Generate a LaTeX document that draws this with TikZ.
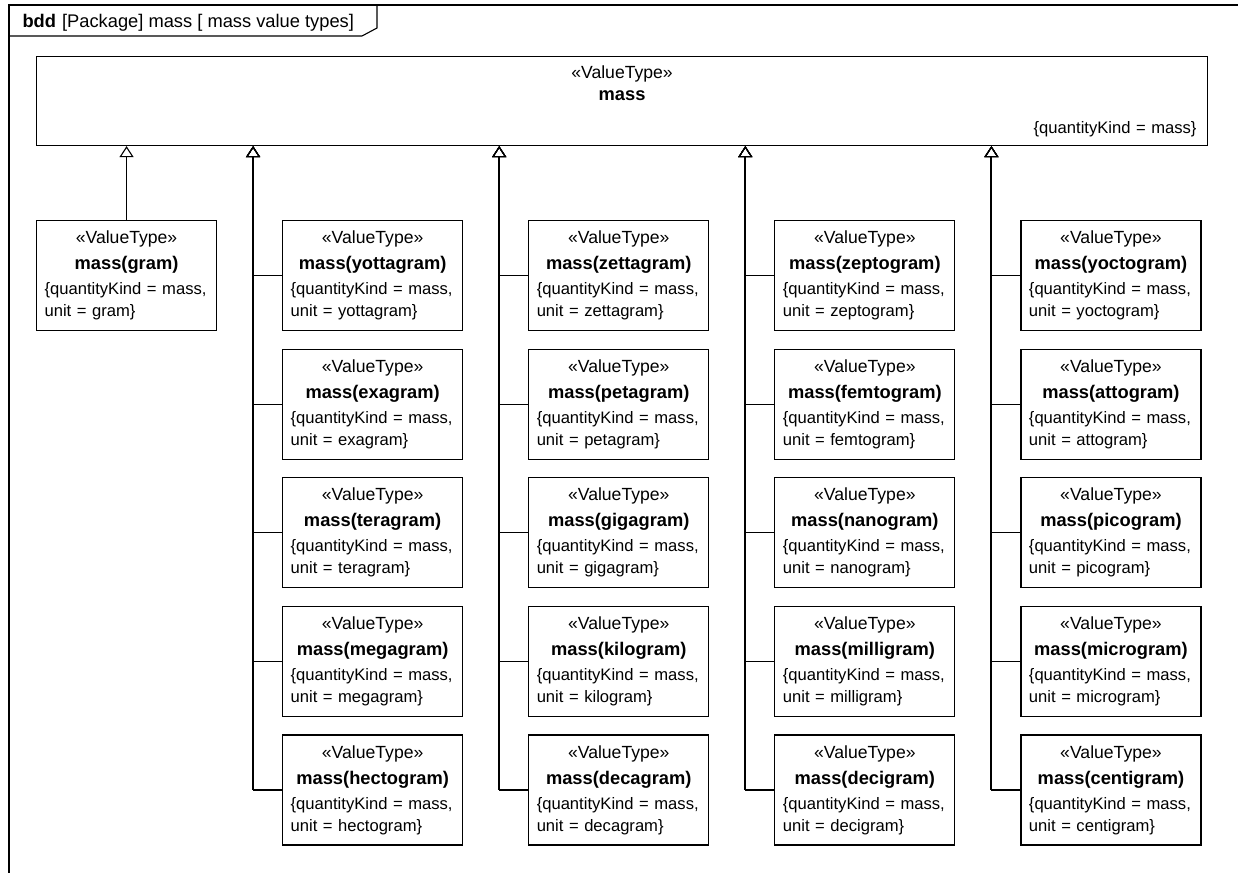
\documentclass[tikz,border=0pt]{standalone}
\usepackage{fontspec}
\setmainfont{Liberation Sans}
\usepackage{tikz}
\usetikzlibrary{arrows.meta, positioning, calc}

\newcommand{\stereo}{{\fontsize{17.6}{22}\selectfont «ValueType»}}
\newcommand{\vtname}[1]{{\fontsize{18.3}{22}\selectfont\bfseries #1}}
\newcommand{\vtype}[1]{\makebox[\hsize]{\stereo}\\[4pt]\makebox[\hsize]{\vtname{mass(#1)}}\\[3pt]\{quantityKind = mass,\\unit = #1\}}

\begin{document}
\begin{tikzpicture}[
    x=1pt, y=-1pt,
    line width=1.1pt,
    vtbox/.style={rectangle, draw, minimum width=180pt, minimum height=110pt, inner xsep=8pt, inner ysep=0pt, text width=164pt, align=left, font=\fontsize{16.6}{22}\selectfont},
    gen/.style={-{Triangle[open, length=11pt, width=14pt]}},
    trunk/.style={line width=2pt}
]
    \useasboundingbox (0,0) rectangle (1238,873);

    % Frame
    \draw (1238,5) -- (9,5) -- (9,873);
    \draw (9,36) -- (362,36) -- (377,28) -- (377,5);
    \node[anchor=base west, inner sep=0pt, font=\fontsize{18.3}{22}\selectfont] (title) at (22,27) {\textbf{bdd}\hspace{6pt}[Package] mass [ mass value types]};

    % General value type
    \node[rectangle, draw, anchor=north west, minimum width=1171pt, minimum height=89pt, inner xsep=11pt, inner ysep=0pt, text width=1149pt, align=center, font=\fontsize{16.6}{22}\selectfont] (mass) at (36,56)
        {\stereo\\ \vtname{mass}\\[11pt] \makebox[\hsize][r]{\{quantityKind = mass\}}};

    % Column 1
    \node[vtbox, anchor=north west] (mgram) at (36,220) {\vtype{gram}};

    % Column 2
    \node[vtbox, right=65pt of mgram] (myotta) {\vtype{yottagram}};
    \node[vtbox, below=17.5pt of myotta] (mexa) {\vtype{exagram}};
    \node[vtbox, below=17.5pt of mexa] (mtera) {\vtype{teragram}};
    \node[vtbox, below=17.5pt of mtera] (mmega) {\vtype{megagram}};
    \node[vtbox, below=17.5pt of mmega] (mhecto) {\vtype{hectogram}};

    % Column 3
    \node[vtbox, right=65pt of myotta] (mzetta) {\vtype{zettagram}};
    \node[vtbox, below=17.5pt of mzetta] (mpeta) {\vtype{petagram}};
    \node[vtbox, below=17.5pt of mpeta] (mgiga) {\vtype{gigagram}};
    \node[vtbox, below=17.5pt of mgiga] (mkilo) {\vtype{kilogram}};
    \node[vtbox, below=17.5pt of mkilo] (mdeca) {\vtype{decagram}};

    % Column 4
    \node[vtbox, right=65pt of mzetta] (mzepto) {\vtype{zeptogram}};
    \node[vtbox, below=17.5pt of mzepto] (mfemto) {\vtype{femtogram}};
    \node[vtbox, below=17.5pt of mfemto] (mnano) {\vtype{nanogram}};
    \node[vtbox, below=17.5pt of mnano] (mmilli) {\vtype{milligram}};
    \node[vtbox, below=17.5pt of mmilli] (mdeci) {\vtype{decigram}};

    % Column 5
    \node[vtbox, right=65pt of mzepto] (myocto) {\vtype{yoctogram}};
    \node[vtbox, below=17.5pt of myocto] (matto) {\vtype{attogram}};
    \node[vtbox, below=17.5pt of matto] (mpico) {\vtype{picogram}};
    \node[vtbox, below=17.5pt of mpico] (mmicro) {\vtype{microgram}};
    \node[vtbox, below=17.5pt of mmicro] (mcenti) {\vtype{centigram}};

    % Generalizations
    \draw[gen] (mgram.north) -- (mgram.north |- mass.south);

    \draw[gen] (myotta.west) -- ++(-29,0) coordinate (t2) -- (t2 |- mass.south);
    \draw[gen] (mexa.west) -| (t2 |- mass.south);
    \draw[gen] (mtera.west) -| (t2 |- mass.south);
    \draw[gen] (mmega.west) -| (t2 |- mass.south);
    \draw[gen] (mhecto.west) -| (t2 |- mass.south);
    \draw[trunk] (mhecto.west -| t2) -- ($(t2 |- mass.south)+(0,11)$);

    \draw[gen] (mzetta.west) -- ++(-29,0) coordinate (t3) -- (t3 |- mass.south);
    \draw[gen] (mpeta.west) -| (t3 |- mass.south);
    \draw[gen] (mgiga.west) -| (t3 |- mass.south);
    \draw[gen] (mkilo.west) -| (t3 |- mass.south);
    \draw[gen] (mdeca.west) -| (t3 |- mass.south);
    \draw[trunk] (mdeca.west -| t3) -- ($(t3 |- mass.south)+(0,11)$);

    \draw[gen] (mzepto.west) -- ++(-29,0) coordinate (t4) -- (t4 |- mass.south);
    \draw[gen] (mfemto.west) -| (t4 |- mass.south);
    \draw[gen] (mnano.west) -| (t4 |- mass.south);
    \draw[gen] (mmilli.west) -| (t4 |- mass.south);
    \draw[gen] (mdeci.west) -| (t4 |- mass.south);
    \draw[trunk] (mdeci.west -| t4) -- ($(t4 |- mass.south)+(0,11)$);

    \draw[gen] (myocto.west) -- ++(-29,0) coordinate (t5) -- (t5 |- mass.south);
    \draw[gen] (matto.west) -| (t5 |- mass.south);
    \draw[gen] (mpico.west) -| (t5 |- mass.south);
    \draw[gen] (mmicro.west) -| (t5 |- mass.south);
    \draw[gen] (mcenti.west) -| (t5 |- mass.south);
    \draw[trunk] (mcenti.west -| t5) -- ($(t5 |- mass.south)+(0,11)$);

\end{tikzpicture}
\end{document}
